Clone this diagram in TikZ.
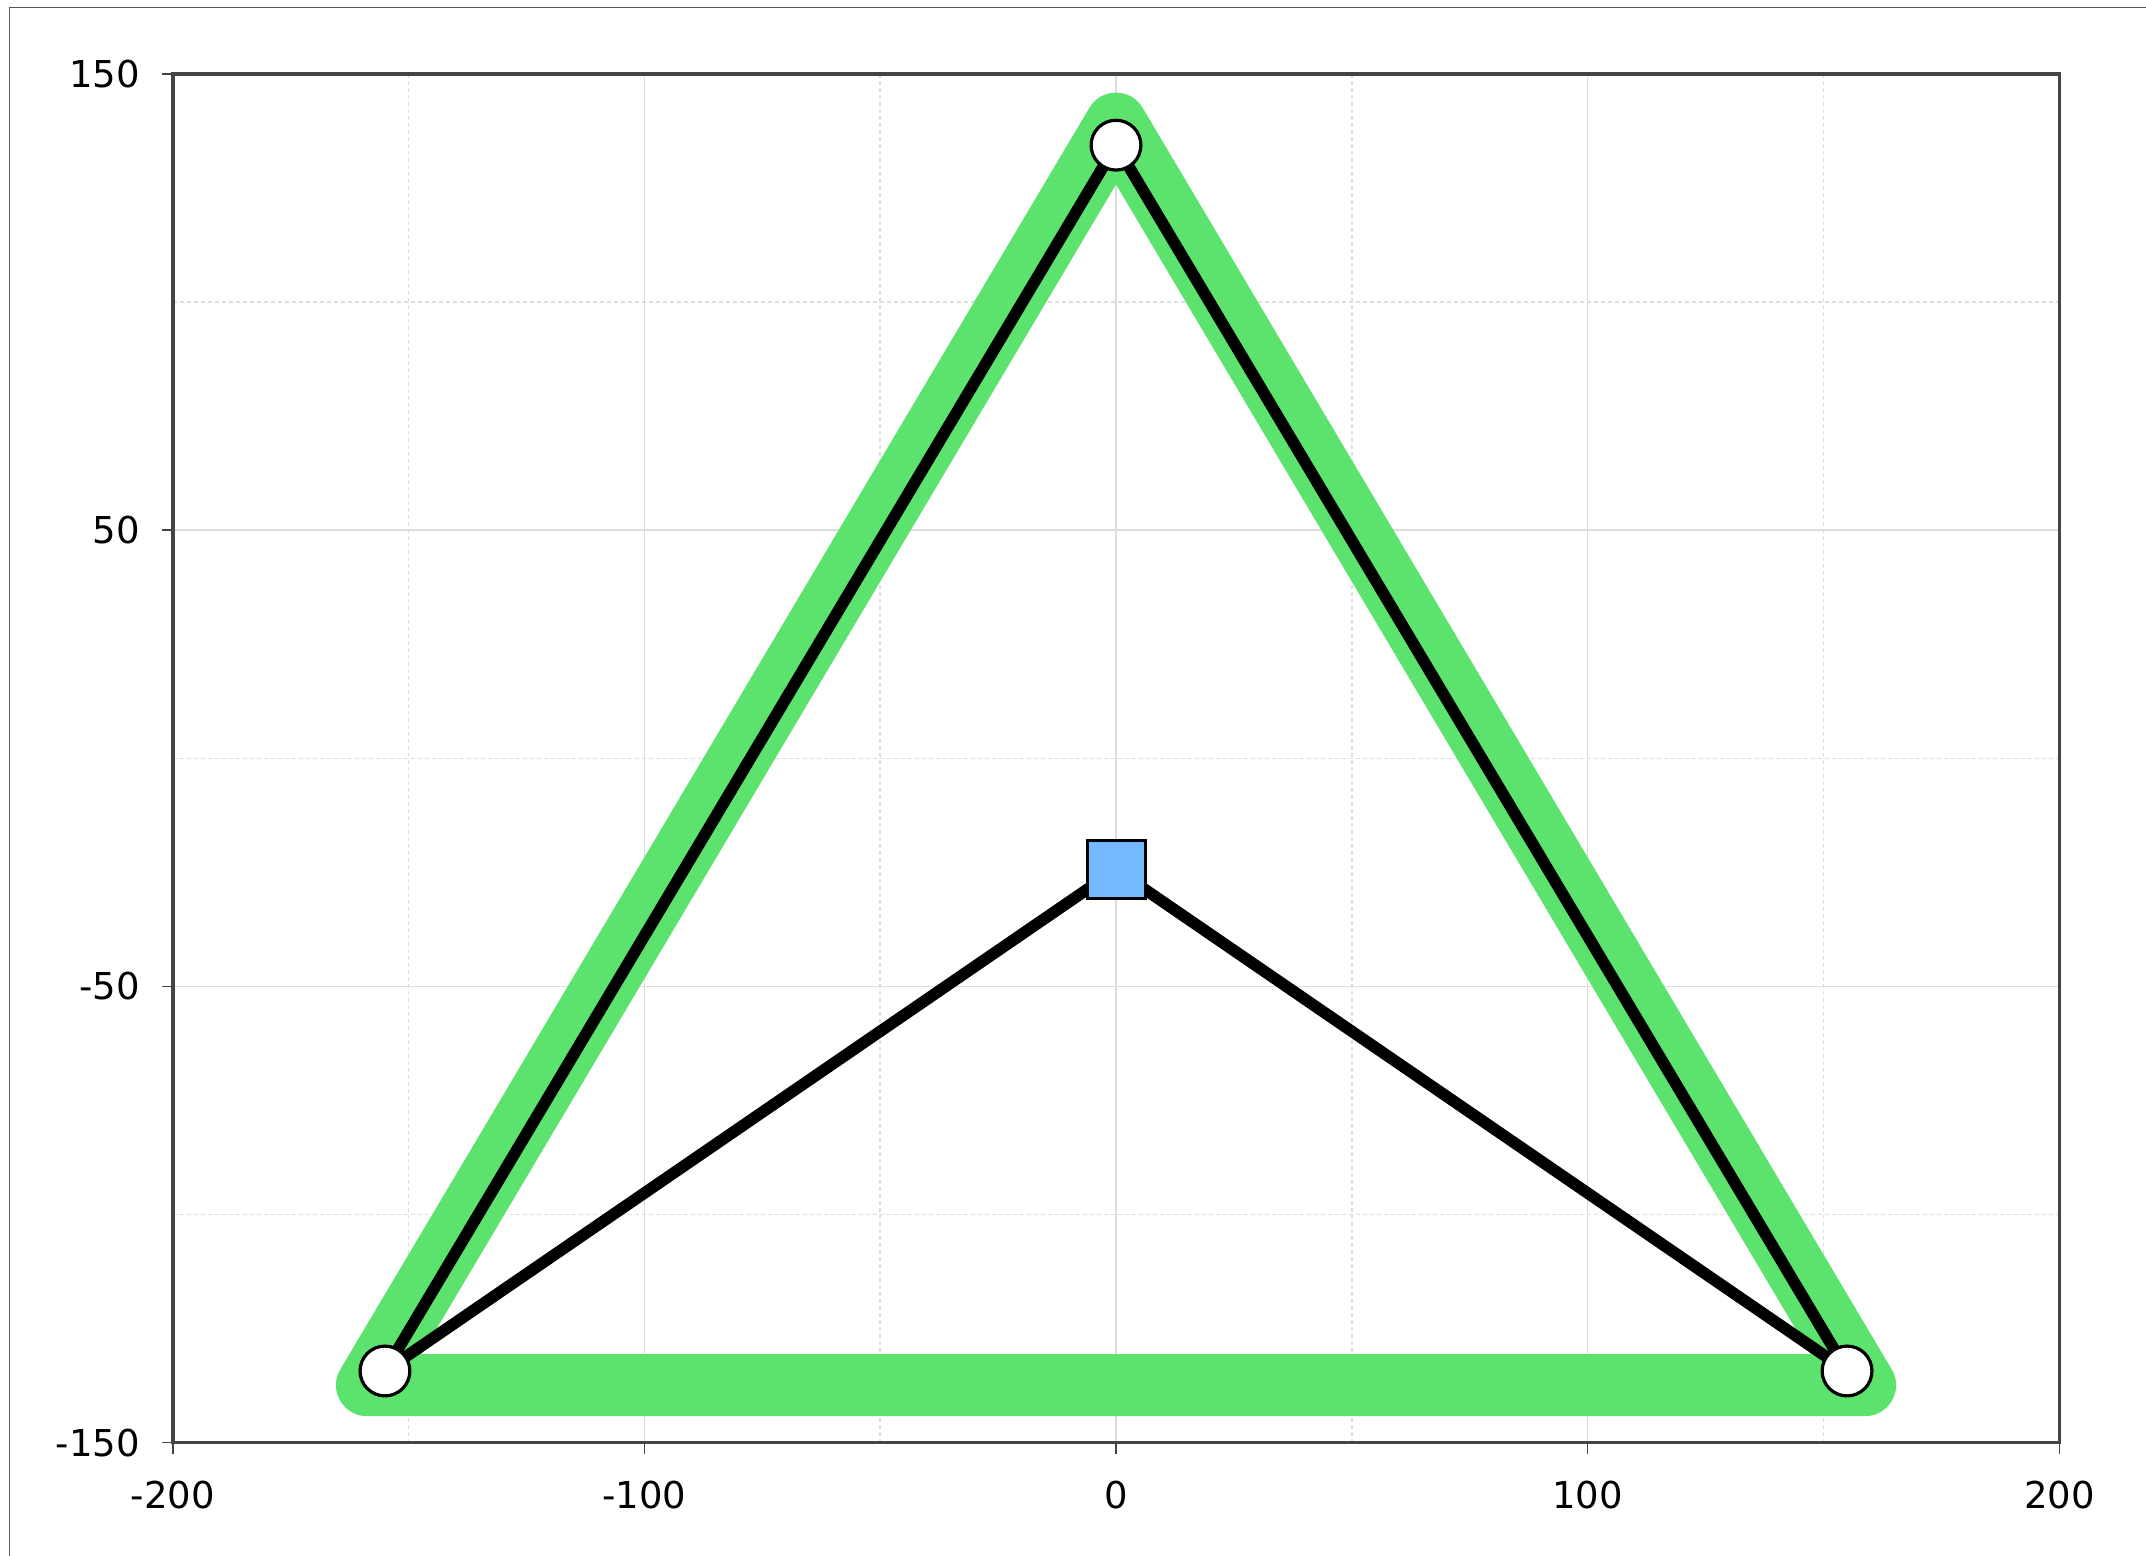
\documentclass[tikz,border=0pt]{standalone}
\usepackage{fontspec}
\setmainfont{DejaVu Sans}
\usetikzlibrary{backgrounds}
\definecolor{gridc}{HTML}{DDDDDD}
\definecolor{axisc}{HTML}{444444}
\definecolor{greenc}{HTML}{5CE36E}
\definecolor{bluec}{HTML}{74B9FF}
\begin{document}
\begin{tikzpicture}[x=0.5pt,y=-0.5pt,
  font=\fontsize{18.5}{21}\selectfont,
  outerframe/.style={draw=axisc!90,line width=0.7pt},
  majorgrid/.style={draw=gridc,line width=0.75pt},
  minorgrid/.style={draw=gridc,line width=0.75pt,dash pattern=on 2pt off 1.5pt},
  axisline/.style={draw=axisc,line width=1.8pt},
  tickmark/.style={draw=axisc,line width=0.8pt},
  greenline/.style={draw=greenc,line width=31pt,line join=round,line cap=round},
  blackline/.style={draw=black,line width=5.8pt},
  vertexdot/.style={circle,draw=black,fill=white,line width=1.6pt,minimum size=24.9pt,inner sep=0pt},
  squaredot/.style={rectangle,draw=black,fill=bluec,line width=1.5pt,minimum size=29pt,inner sep=0pt},
  xlabel/.style={anchor=center,inner sep=0pt,yshift=-26.2pt},
  ylabel/.style={anchor=east,inner sep=0pt,xshift=-16.3pt}
]
\useasboundingbox (0,0) rectangle (2146,1556);
\begin{pgfonlayer}{background}
  \fill[white] (0,0) rectangle (2146,1556);
\end{pgfonlayer}
\draw[outerframe] (9.3,1600) -- (9.3,7.3) -- (2200,7.3);
\begin{scope}[shift={(558pt,-379.15pt)}, x=2.35825pt, y=2.281pt]
  % data nodes
  \node[vertexdot] (v1) at (0,134.4) {};
  \node[vertexdot] (v2) at (-155,-134.3) {};
  \node[vertexdot] (v3) at (155,-134.3) {};
  \node[squaredot] (sq) at (0,-24.4) {};
  \coordinate (g1) at (0,139.1);
  \coordinate (g2) at (-158.8,-137.4);
  \coordinate (g3) at (158.8,-137.4);
  % tick labels
  \foreach \x/\n in {-200/xa,-100/xb,0/xc,100/xd,200/xe}
    \node[xlabel] (\n) at (\x,-150) {\x};
  \foreach \y/\n in {150/ya,50/yb,-50/yc,-150/yd}
    \node[ylabel] (\n) at (-200,\y) {\y};
  \begin{pgfonlayer}{background}
    \foreach \x in {-150,-50,50,150}
      \draw[minorgrid] (\x,-150) -- (\x,150);
    \foreach \y in {-100,0,100}
      \draw[minorgrid] (-200,\y) -- (200,\y);
    \foreach \x in {-100,0,100}
      \draw[majorgrid] (\x,-150) -- (\x,150);
    \foreach \y in {-50,50}
      \draw[majorgrid] (-200,\y) -- (200,\y);
    \foreach \x in {-200,-100,0,100,200}
      \draw[tickmark] (\x,-150) -- ++(0pt,-5.5pt);
    \foreach \y in {150,50,-50,-150}
      \draw[tickmark] (-200,\y) -- ++(-5.5pt,0pt);
    \draw[axisline] (-200,-150) rectangle (200,150);
    \draw[greenline] (g1) -- (g2) -- (g3) -- cycle;
    \draw[blackline] (v2.center) -- (v1.center) -- (v3.center);
    \draw[blackline] (v2.center) -- (sq.center) -- (v3.center);
  \end{pgfonlayer}
\end{scope}
\end{tikzpicture}
\end{document}
